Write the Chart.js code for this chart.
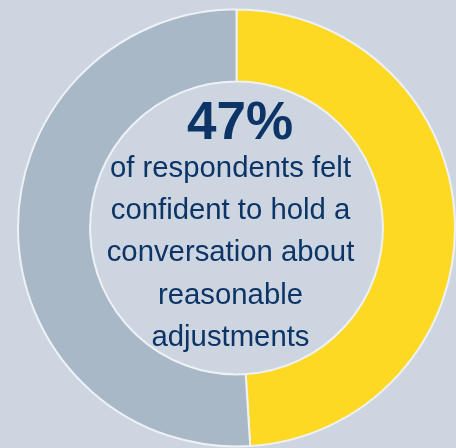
<!DOCTYPE html>
<html>
<head>
<meta charset="utf-8">
<script src="https://cdn.jsdelivr.net/npm/chart.js@4"></script>
<style>
    html, body { margin: 0; padding: 0; background: #cdd5e0; }
    #wrap { width: 456px; height: 448px; position: relative; }
</style>
</head>
<body>
<div id="wrap"><canvas id="donut"></canvas></div>
<script>
// Data
const segmentLabels = ['Felt confident', 'Did not'];
const segmentValues = [49, 51];
const segmentColors = ['#fdd923', '#a9b8c7'];

const headline = '47%';
const captionLines = [
    'of respondents felt',
    'confident to hold a',
    'conversation about',
    'reasonable',
    'adjustments'
];

const textColor = '#0c3466';

// Center text plugin
const centerText = {
    id: 'centerText',
    afterDraw(chart) {
        const ctx = chart.ctx;
        const arc = chart.getDatasetMeta(0).data[0];
        const cx = arc.x;
        ctx.save();
        ctx.fillStyle = textColor;
        ctx.textAlign = 'center';
        ctx.textBaseline = 'alphabetic';

        ctx.font = 'bold 53px "Liberation Sans", Arial, sans-serif';
        ctx.fillText(headline, cx + 3.5, 139);

        ctx.font = '29.3px "Liberation Sans", Arial, sans-serif';
        let y = 177;
        captionLines.forEach(line => {
            ctx.fillText(line, cx - 6, y);
            y += 42.2;
        });
        ctx.restore();
    }
};

const ctx = document.getElementById('donut').getContext('2d');
const donutChart = new Chart(ctx, {
    type: 'doughnut',
    data: {
        labels: segmentLabels,
        datasets: [{
            data: segmentValues,
            backgroundColor: segmentColors,
            borderColor: '#eef1f5',
            borderWidth: 2
        }]
    },
    options: {
        responsive: true,
        maintainAspectRatio: false,
        animation: false,
        cutout: '67%',
        layout: {
            padding: { left: 17, top: 8, right: 0, bottom: 0 }
        },
        plugins: {
            legend: { display: false },
            tooltip: { enabled: false }
        }
    },
    plugins: [centerText]
});
</script>
</body>
</html>
